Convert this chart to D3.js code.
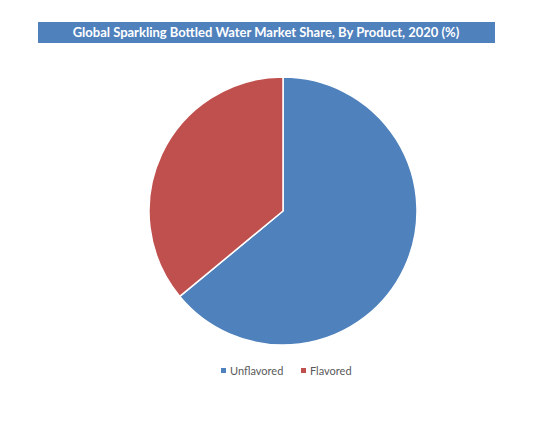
<!DOCTYPE html>
<html>
<head>
<meta charset="utf-8">
<script src="https://cdn.jsdelivr.net/npm/d3@7"></script>
<style>
  body { margin: 0; background: #fff; }
  svg { display: block; }
</style>
</head>
<body>
<div id="chart"></div>
<script>
var categories = ["Unflavored", "Flavored"];
var shares = [64, 36];
var colors = ["#4F81BD", "#C0504D"];
var title = "Global Sparkling Bottled Water Market Share, By Product, 2020 (%)";

var width = 534, height = 432;
var cx = 283, cy = 211, radius = 134;

var svg = d3.select("#chart").append("svg")
    .attr("width", width)
    .attr("height", height);

// title bar
svg.append("rect")
    .attr("x", 38).attr("y", 22)
    .attr("width", 457).attr("height", 21)
    .attr("fill", "#4F81BD");
svg.append("text")
    .attr("x", 266).attr("y", 37)
    .attr("text-anchor", "middle")
    .attr("fill", "#fff")
    .attr("font-family", "Lato, 'Open Sans', sans-serif")
    .attr("font-weight", "bold")
    .attr("font-size", "13px")
    .text(title);

var data = categories.map(function(c, i) { return { label: c, value: shares[i], color: colors[i] }; });

var pie = d3.pie().value(function(d) { return d.value; }).sort(null);
var arc = d3.arc().innerRadius(0).outerRadius(radius);

svg.append("g")
    .attr("transform", "translate(" + cx + "," + cy + ")")
  .selectAll("path")
    .data(pie(data))
  .enter().append("path")
    .attr("d", arc)
    .attr("fill", function(d) { return d.data.color; })
    .attr("stroke", "#fff")
    .attr("stroke-width", 1.5);

// legend
var legendX = [221, 301];
var legend = svg.append("g").selectAll("g")
    .data(data)
  .enter().append("g")
    .attr("transform", function(d, i) { return "translate(" + legendX[i] + ",371)"; });
legend.append("rect")
    .attr("x", 0).attr("y", -3)
    .attr("width", 5).attr("height", 5)
    .attr("fill", function(d) { return d.color; });
legend.append("text")
    .attr("x", 9).attr("y", 4)
    .attr("fill", "#595959")
    .attr("font-family", "Lato, 'Open Sans', sans-serif")
    .attr("font-size", "11px")
    .text(function(d) { return d.label; });
</script>
</body>
</html>
